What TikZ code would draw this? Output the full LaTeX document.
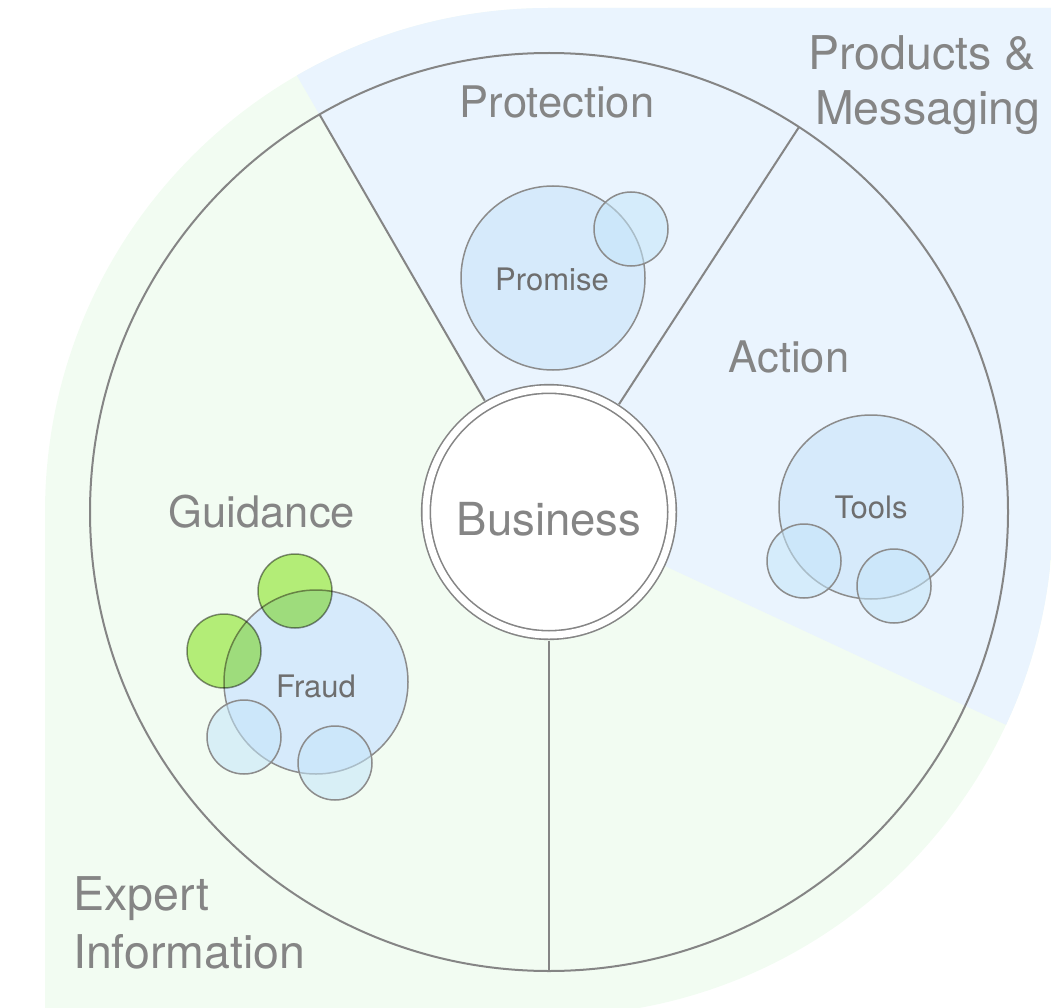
\documentclass[tikz,border=0pt]{standalone}
\usepackage{fontspec}
\setmainfont{TeX Gyre Heros}
\definecolor{leafgreen}{HTML}{F2FCF2}
\definecolor{leafblue}{HTML}{EAF4FE}
\definecolor{rimgray}{HTML}{858585}
\definecolor{bubgray}{HTML}{8C8C8C}
\definecolor{txtgray}{HTML}{858585}
\definecolor{smallgray}{HTML}{6E6E6E}
\definecolor{bubblue}{HTML}{D6EAFB}
\definecolor{satblue}{HTML}{C4E6FA}
\definecolor{leafbub}{HTML}{BDF07E}
\tikzset{
  rim/.style={circle, draw=rimgray, line width=2pt, inner sep=0pt, outer sep=0pt},
  hub/.style={circle, draw=rimgray, line width=1.6pt, double=white, double distance=7pt,
    fill=white, inner sep=0pt, minimum size=246pt, outer sep=5.5pt},
  spoke/.style={draw=rimgray, line width=2pt},
  bigbub/.style={circle, draw=bubgray, line width=1.5pt, fill=bubblue, inner sep=0pt,
    minimum size=184pt},
  smallbub/.style={circle, draw=bubgray, line width=1.5pt, fill=satblue, fill opacity=0.55,
    draw opacity=1, inner sep=0pt, minimum size=74pt},
  greenbub/.style={circle, draw=bubgray, line width=1.5pt, fill=leafbub, blend mode=multiply,
    inner sep=0pt, minimum size=74pt},
  bubtext/.style={text=smallgray, font=\fontsize{31}{34}\selectfont, inner sep=0pt, anchor=base},
  hubtext/.style={text=txtgray, font=\fontsize{45.5}{50}\selectfont, inner sep=0pt, anchor=base},
  sector/.style={text=txtgray, font=\fontsize{43.5}{48}\selectfont, inner sep=0pt, anchor=base},
  corner/.style={text=txtgray, font=\fontsize{46.5}{55}\selectfont, inner sep=0pt, anchor=base west},
}
\begin{document}
\begin{tikzpicture}[x=1pt, y=-1pt]
\useasboundingbox (0,0) rectangle (1051,1008);

% leaf-shaped background, green part
\path[fill=leafgreen] (45,1020) -- (45,512) arc[start angle=180, end angle=270, radius=504]
  -- (1053,8) -- (1053,512) arc[start angle=0, end angle=90, radius=504] -- (45,1020) -- cycle;

% blue wedge of the background
\begin{scope}
  \clip (45,1020) -- (45,512) arc[start angle=180, end angle=270, radius=504]
    -- (1053,8) -- (1053,512) arc[start angle=0, end angle=90, radius=504] -- (45,1020) -- cycle;
  \fill[leafblue] (549,512) -- (99,-267) -- (1400,-267) -- (1400,892) -- (1365,892) -- cycle;
\end{scope}

% outer wheel and hub
\node[rim, minimum size=918pt] (wheel) at (549,512) {};
\node[hub] (biz) at (549,512) {};
\node[hubtext] (biztext) at (549,535) {Business};

% spokes
\draw[spoke] (biz.120) -- (wheel.120);
\draw[spoke] (biz.57) -- (wheel.57);
\draw[spoke] (biz.270) -- (wheel.270);

% Promise cluster
\node[bigbub] (promise) at (553,278) {};
\node[smallbub] (promiseA) at (631,229) {};
\node[bubtext] (promisetxt) at (552,290) {Promise};

% Tools cluster
\node[bigbub] (tools) at (871,507) {};
\node[smallbub] (toolsA) at (804,561) {};
\node[smallbub] (toolsB) at (894,586) {};
\node[bubtext] (toolstxt) at (871,518) {Tools};

% Fraud cluster
\node[bigbub] (fraud) at (316,682) {};
\node[smallbub] (fraudA) at (244,737) {};
\node[smallbub] (fraudB) at (335,763) {};
\node[greenbub] (fraudG) at (295,591) {};
\node[greenbub] (fraudH) at (224,651) {};
\node[bubtext] (fraudtxt) at (316,697) {Fraud};

% sector labels
\node[sector] (protection) at (557,118) {Protection};
\node[sector] (action) at (789,372) {Action};
\node[sector] (guidance) at (262,527) {Guidance};

% corner labels
\node[corner] (prod1) at (808,70) {Products \&};
\node[corner] (prod2) at (815,125) {Messaging};
\node[corner] (exp1) at (73,910) {Expert};
\node[corner] (exp2) at (73,968) {Information};
\end{tikzpicture}
\end{document}
